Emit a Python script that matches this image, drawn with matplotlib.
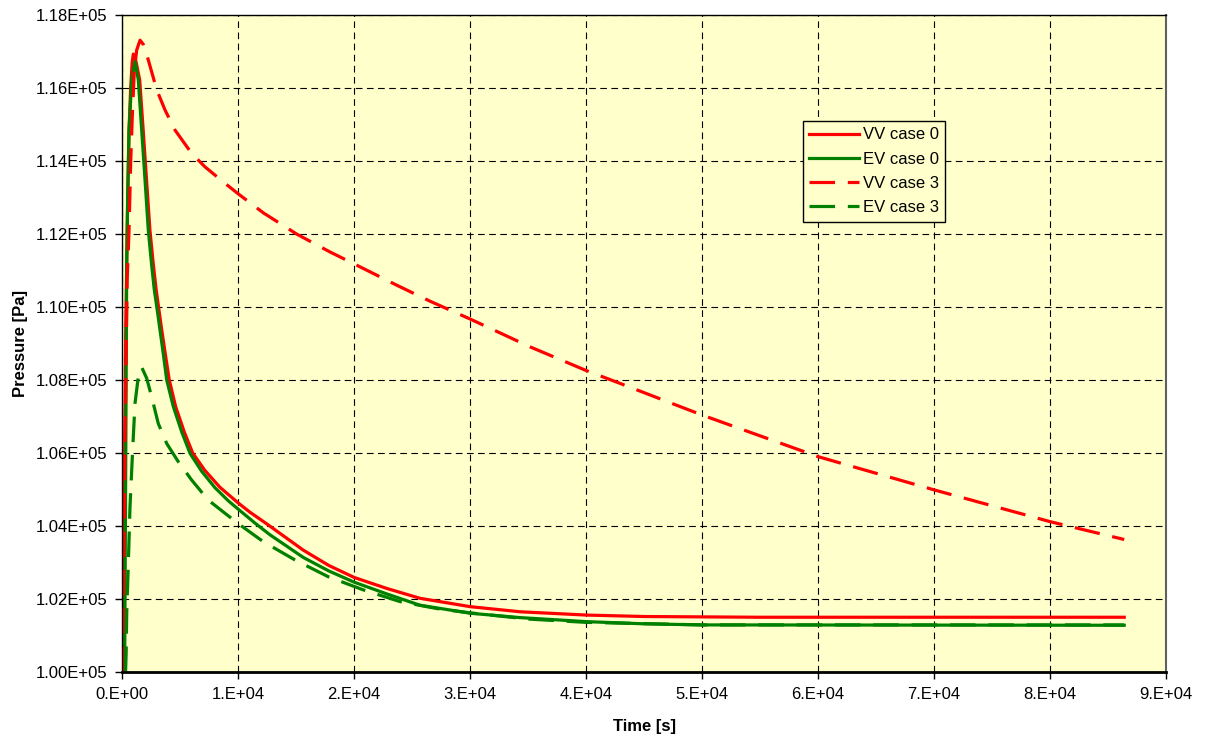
import matplotlib.pyplot as plt
from matplotlib.ticker import FuncFormatter

# time [s] / pressure [Pa]
t_vv0 = [0, 150, 300, 380, 465, 580, 720, 850, 950, 1100, 1500, 1800, 2090, 2380, 2680,
         2920, 3120, 3400, 3700, 4050, 4600, 5350, 6070, 7100, 8420, 10000, 11000, 12450,
         15600, 17800, 20000, 22800, 25660, 30000, 34300, 40000, 45000, 55000, 86400]
p_vv0 = [1.000e5, 1.040e5, 1.095e5, 1.112e5, 1.130e5, 1.1485e5, 1.160e5, 1.1670e5, 1.1693e5,
         1.1685e5, 1.1622e5, 1.1485e5, 1.1348e5, 1.1211e5, 1.1115e5, 1.1047e5, 1.1001e5,
         1.0937e5, 1.0873e5, 1.0800e5, 1.0727e5, 1.0657e5, 1.0600e5, 1.0553e5, 1.0506e5,
         1.0463e5, 1.0438e5, 1.0406e5, 1.0334e5, 1.0292e5, 1.0259e5, 1.0229e5, 1.0202e5,
         1.0179e5, 1.0165e5, 1.0156e5, 1.0152e5, 1.0150e5, 1.0150e5]

t_ev0 = [200, 300, 380, 465, 580, 810, 1095, 1380, 1670, 1960, 2240, 2530, 2760, 2970, 3250,
         3530, 3830, 4400, 5120, 5840, 6840, 7990, 9140, 10000, 11440, 12730, 15600, 17800,
         20000, 22800, 25660, 30000, 34300, 40000, 45000, 50000, 86400]
p_ev0 = [1.000e5, 1.060e5, 1.112e5, 1.1302e5, 1.1485e5, 1.1622e5, 1.1672e5, 1.1622e5,
         1.1485e5, 1.1348e5, 1.1211e5, 1.1115e5, 1.1047e5, 1.1001e5, 1.0937e5, 1.0873e5,
         1.0800e5, 1.0727e5, 1.0658e5, 1.0599e5, 1.0550e5, 1.0505e5, 1.0469e5, 1.0446e5,
         1.0408e5, 1.0376e5, 1.0314e5, 1.0277e5, 1.0246e5, 1.0214e5, 1.0183e5, 1.0161e5,
         1.0149e5, 1.0138e5, 1.0132e5, 1.0129e5, 1.0128e5]

t_vv3 = [0, 100, 230, 420, 580, 720, 870, 1040, 1240, 1530, 1800, 2240, 2970, 3680, 4540,
         5980, 7130, 8850, 10000, 12160, 15030, 17900, 20000, 23650, 26530, 30000, 35150,
         40000, 42900, 50000, 60000, 70000, 80000, 86400]
p_vv3 = [1.000e5, 1.020e5, 1.062e5, 1.1074e5, 1.1211e5, 1.1394e5, 1.1531e5, 1.1649e5,
         1.1704e5, 1.1731e5, 1.1720e5, 1.1677e5, 1.1595e5, 1.1540e5, 1.1485e5, 1.1421e5,
         1.1384e5, 1.1339e5, 1.1310e5, 1.1258e5, 1.1200e5, 1.1151e5, 1.1118e5, 1.1060e5,
         1.1016e5, 1.0967e5, 1.0891e5, 1.0826e5, 1.0791e5, 1.0704e5, 1.0590e5, 1.0499e5,
         1.0412e5, 1.0363e5]

t_ev3 = [280, 330, 380, 520, 660, 810, 950, 1095, 1380, 1670, 2100, 2530, 3100, 3830, 4830,
         5980, 7410, 8850, 10150, 12160, 14890, 17760, 20780, 23940, 27100, 30000, 35000,
         40000, 50000, 86400]
p_ev3 = [1.000e5, 1.005e5, 1.0161e5, 1.0298e5, 1.0450e5, 1.0553e5, 1.0645e5, 1.0736e5,
         1.0809e5, 1.0835e5, 1.0805e5, 1.0754e5, 1.0681e5, 1.0626e5, 1.0576e5, 1.0526e5,
         1.0471e5, 1.0435e5, 1.0403e5, 1.0357e5, 1.0307e5, 1.0261e5, 1.0225e5, 1.0193e5,
         1.0174e5, 1.0162e5, 1.0145e5, 1.0136e5, 1.0129e5, 1.0129e5]

xticks = [0, 1e4, 2e4, 3e4, 4e4, 5e4, 6e4, 7e4, 8e4, 9e4]
yticks = [1.00e5, 1.02e5, 1.04e5, 1.06e5, 1.08e5, 1.10e5, 1.12e5, 1.14e5, 1.16e5, 1.18e5]

plt.rcParams['font.family'] = ['Liberation Sans', 'DejaVu Sans']
plt.rcParams['font.size'] = 12

fig = plt.figure(figsize=(12.05, 7.4), dpi=100)
ax = fig.add_axes([0.1015, 0.0919, 0.8661, 0.8878])
ax.set_facecolor('#FFFFCC')

lw = 2.3
ax.plot(t_vv0, p_vv0, color='#FF0000', lw=lw, label='VV case 0')
ax.plot(t_ev0, p_ev0, color='#008000', lw=lw, label='EV case 0')
ax.plot(t_vv3, p_vv3, color='#FF0000', lw=lw, dashes=(8, 4), label='VV case 3')
ax.plot(t_ev3, p_ev3, color='#008000', lw=lw, dashes=(8, 4), label='EV case 3')

ax.set_xlim(0, 9e4)
ax.set_ylim(1.0e5, 1.18e5)
ax.set_xticks(xticks)
ax.set_yticks(yticks)
ax.xaxis.set_major_formatter(FuncFormatter(lambda v, p: f"{v:#.0E}"))
ax.yaxis.set_major_formatter(FuncFormatter(lambda v, p: f"{v:.2E}"))
ax.tick_params(direction='out', length=5, width=1, color='black', pad=6)
ax.grid(True, color='black', linestyle=(0, (6, 4)), linewidth=0.8)
ax.set_axisbelow(True)

for s in ['top', 'left']:
    ax.spines[s].set_color('black')
    ax.spines[s].set_linewidth(1)
ax.spines['right'].set_color('#606060')
ax.spines['right'].set_linewidth(1.5)
ax.spines['bottom'].set_color('black')
ax.spines['bottom'].set_linewidth(2)

ax.set_xlabel('Time [s]', fontweight='bold', labelpad=12)
ax.set_ylabel('Pressure [Pa]', fontweight='bold', labelpad=5)

leg = ax.legend(loc='upper left', bbox_to_anchor=(0.652, 0.839), borderaxespad=0,
                fancybox=False, edgecolor='black', facecolor='#FFFFCC', framealpha=1,
                handlelength=3.0, handletextpad=0.2, borderpad=0.4, labelspacing=0.55,
                fontsize=12)
leg.get_frame().set_linewidth(1)

fig.savefig('out.png', dpi=100)
